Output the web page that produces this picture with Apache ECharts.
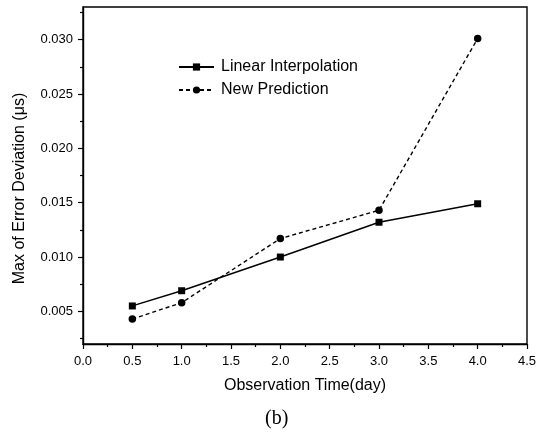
<!DOCTYPE html>
<html>
<head>
<meta charset="utf-8">
<script src="https://cdn.jsdelivr.net/npm/echarts@6/dist/echarts.min.js"></script>
<style>
html,body{margin:0;padding:0;background:#fff;}
#chart{width:545px;height:435px;}
</style>
</head>
<body>
<div id="chart"></div>
<script>
var xValues = [0.5, 1.0, 2.0, 3.0, 4.0];
var linearInterp = [0.0055, 0.0069, 0.0100, 0.0132, 0.0149];
var newPrediction = [0.0043, 0.0058, 0.0117, 0.0143, 0.0301];
var yMajorTicks = [0.005, 0.010, 0.015, 0.020, 0.025, 0.030];
var yMinorTicks = [0.0025, 0.0075, 0.0125, 0.0175, 0.0225, 0.0275, 0.0325];
var seriesNames = ['Linear Interpolation', 'New Prediction'];

function pairs(xs, ys) { return xs.map(function (x, i) { return [x, ys[i]]; }); }

var font = 'Liberation Sans, Arial, Helvetica, sans-serif';
var chart = echarts.init(document.getElementById('chart'), null, {renderer: 'canvas'});
chart.setOption({
  animation: false,
  backgroundColor: '#fff',
  grid: {left: 83, right: 18, top: 7, bottom: 91, show: true, borderColor: '#000', borderWidth: 1.4, backgroundColor: 'transparent'},
  legend: {
    orient: 'vertical', left: 178, top: 59, padding: 0, itemWidth: 35, itemHeight: 9, itemGap: 7,
    data: seriesNames,
    textStyle: {fontFamily: font, fontSize: 16, lineHeight: 16, color: '#000', padding: [0, 0, 0, 2]}
  },
  graphic: [{
    type: 'text', left: 265, top: 409,
    style: {text: '(b)', font: '20px "Liberation Serif", "Times New Roman", serif', fill: '#000'}
  }],
  xAxis: {
    type: 'value', min: 0, max: 4.5, interval: 0.5,
    name: 'Observation Time(day)', nameLocation: 'middle', nameGap: 34,
    nameTextStyle: {fontFamily: font, fontSize: 16, color: '#000'},
    axisLine: {show: true, onZero: false, lineStyle: {color: '#000', width: 1.4}},
    axisTick: {show: true, inside: false, length: 5, lineStyle: {color: '#000', width: 1.2}},
    minorTick: {show: true, splitNumber: 2, length: 3, lineStyle: {color: '#000', width: 1.2}},
    axisLabel: {fontFamily: font, fontSize: 13, color: '#000', margin: 11,
      formatter: function (v) { return v.toFixed(1); }},
    splitLine: {show: false}
  },
  yAxis: [{
    type: 'value', min: 0.002, max: 0.033, position: 'left',
    name: 'Max of Error Deviation (\u03bcs)', nameLocation: 'middle', nameGap: 55,
    nameTextStyle: {fontFamily: font, fontSize: 16, color: '#000', padding: [0, 26, 0, 0]},
    axisLine: {show: true, onZero: false, lineStyle: {color: '#000', width: 1.4}},
    axisTick: {show: true, inside: false, length: 5, customValues: yMajorTicks, lineStyle: {color: '#000', width: 1.2}},
    axisLabel: {fontFamily: font, fontSize: 13, color: '#000', margin: 10, customValues: yMajorTicks,
      formatter: function (v) { return v.toFixed(3); }},
    splitLine: {show: false}
  }, {
    type: 'value', min: 0.002, max: 0.033, position: 'left', offset: 0,
    axisLine: {show: false},
    axisTick: {show: true, inside: false, length: 3, customValues: yMinorTicks, lineStyle: {color: '#000', width: 1.2}},
    axisLabel: {show: false},
    splitLine: {show: false}
  }],
  series: [{
    name: seriesNames[0], type: 'line', yAxisIndex: 0,
    data: pairs(xValues, linearInterp),
    symbol: 'rect', symbolSize: 7,
    itemStyle: {color: '#000'},
    lineStyle: {color: '#000', width: 1.4, type: 'solid'}
  }, {
    name: seriesNames[1], type: 'line', yAxisIndex: 0,
    data: pairs(xValues, newPrediction),
    symbol: 'circle', symbolSize: 7.5,
    itemStyle: {color: '#000'},
    lineStyle: {color: '#000', width: 1.4, type: [4, 3]}
  }]
});
</script>
</body>
</html>
